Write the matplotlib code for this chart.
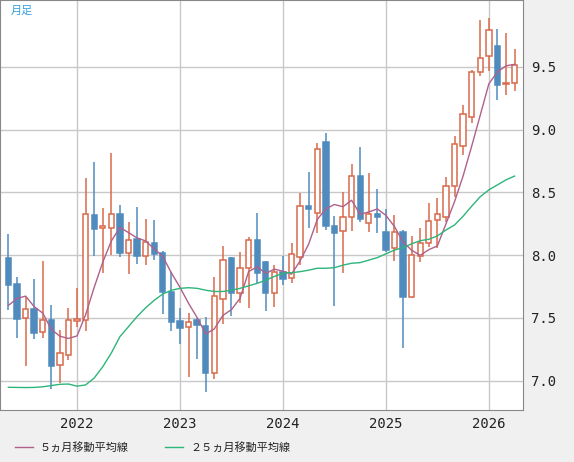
import numpy as np
import matplotlib.pyplot as plt

# monthly candles, May 2021 .. Apr 2026
opens = [7.977, 7.770, 7.496, 7.568, 7.384, 7.480, 7.121, 7.201, 7.478, 7.480,
         8.320, 8.218, 8.219, 8.328, 8.014, 8.129, 7.996, 8.097, 8.017, 7.709,
         7.475, 7.424, 7.480, 7.435, 7.057, 7.647, 7.980, 7.695, 7.895, 8.121,
         7.948, 7.695, 7.863, 7.815, 7.985, 8.392, 8.339, 8.902, 8.232, 8.190,
         8.301, 8.628, 8.253, 8.325, 8.184, 8.054, 8.184, 7.669, 7.990, 8.099,
         8.277, 8.307, 8.551, 8.870, 9.104, 9.457, 9.590, 9.667, 9.362, 9.370]
closes = [7.765, 7.493, 7.568, 7.382, 7.480, 7.119, 7.217, 7.480, 7.482, 8.325,
          8.211, 8.222, 8.325, 8.020, 8.121, 7.996, 8.102, 8.012, 7.709, 7.469,
          7.422, 7.464, 7.443, 7.057, 7.674, 7.958, 7.695, 7.895, 8.121, 7.860,
          7.701, 7.863, 7.812, 8.006, 8.389, 8.370, 8.844, 8.235, 8.179, 8.301,
          8.628, 8.285, 8.326, 8.301, 8.044, 8.182, 7.669, 7.998, 8.099, 8.269,
          8.331, 8.549, 8.883, 9.125, 9.457, 9.569, 9.795, 9.356, 9.370, 9.516]
highs = [8.168, 7.828, 7.669, 7.810, 7.953, 7.602, 7.403, 7.578, 7.738, 8.618,
         8.743, 8.376, 8.817, 8.400, 8.267, 8.384, 8.288, 8.283, 8.036, 7.863,
         7.578, 7.541, 7.496, 7.507, 7.828, 8.073, 7.988, 8.028, 8.147, 8.339,
         7.950, 7.921, 7.993, 8.094, 8.495, 8.665, 8.897, 8.976, 8.312, 8.503,
         8.727, 8.862, 8.655, 8.527, 8.368, 8.320, 8.200, 8.152, 8.213, 8.413,
         8.456, 8.623, 8.953, 9.197, 9.476, 9.875, 9.890, 9.803, 9.773, 9.643]
lows = [7.562, 7.342, 7.119, 7.331, 7.342, 6.935, 6.983, 7.164, 7.430, 7.398,
        7.996, 7.860, 7.998, 7.982, 7.849, 7.929, 7.921, 7.961, 7.533, 7.398,
        7.291, 7.031, 7.174, 6.911, 7.015, 7.448, 7.515, 7.621, 7.576, 7.775,
        7.557, 7.589, 7.759, 7.780, 7.921, 8.219, 8.179, 8.200, 7.597, 7.855,
        8.195, 8.267, 8.187, 8.174, 8.028, 7.956, 7.262, 7.660, 7.948, 8.067,
        8.054, 8.262, 8.466, 8.800, 9.050, 9.428, 9.470, 9.239, 9.277, 9.311]
prior_closes = [7.22, 7.47, 7.80, 7.74]  # Jan-Apr 2021, for the 5-month MA
ma25 = [6.946, 6.945, 6.944, 6.945, 6.950, 6.960, 6.970, 6.972, 6.955, 6.965,
        7.02, 7.11, 7.22, 7.35, 7.43, 7.51, 7.58, 7.64, 7.69, 7.72,
        7.735, 7.74, 7.735, 7.72, 7.71, 7.71, 7.72, 7.735, 7.755, 7.775,
        7.80, 7.83, 7.855, 7.86, 7.868, 7.88, 7.895, 7.895, 7.90, 7.92,
        7.935, 7.94, 7.96, 7.98, 8.01, 8.04, 8.06, 8.09, 8.115, 8.126,
        8.153, 8.20, 8.24, 8.31, 8.39, 8.466, 8.52, 8.56, 8.60, 8.63]
year_labels = ["2022", "2023", "2024", "2025", "2026"]
year_idx = [8, 20, 32, 44, 56]
y_ticks = [7.0, 7.5, 8.0, 8.5, 9.0, 9.5]

all_c = np.array(prior_closes + closes)
ma5 = np.convolve(all_c, np.ones(5) / 5, mode="valid")

up_col = "#d9694a"
dn_col = "#4f8bbd"

fig = plt.figure(figsize=(5.74, 4.62), dpi=100, facecolor="#f0f0f0")
ax = fig.add_axes([0, 410 / 462 * 0 + 52 / 462, 523 / 574, 410 / 462])
ax.set_facecolor("white")

x = np.arange(len(closes))
for i in x:
    o, c, h, l = opens[i], closes[i], highs[i], lows[i]
    col = up_col if c >= o else dn_col
    ax.vlines(i, l, h, color=col, lw=1.1, zorder=2)
    lo, hi = min(o, c), max(o, c)
    height = max(hi - lo, 0.012)
    if c >= o:
        ax.bar(i, height, bottom=lo, width=0.62, facecolor="white",
               edgecolor=col, lw=1.1, zorder=3)
    else:
        ax.bar(i, height, bottom=lo, width=0.62, facecolor=col,
               edgecolor=col, lw=1.1, zorder=3)

ax.plot(x, ma5, color="#b0608a", lw=1, zorder=4)
ax.plot(x, ma25, color="#2db57a", lw=1, zorder=4)

ax.set_xlim(-0.98, 59.98)
ax.set_ylim(6.765, 10.034)
ax.set_xticks(year_idx)
ax.set_xticklabels(year_labels)
ax.set_yticks(y_ticks)
ax.set_yticklabels([f"{v:.1f}" for v in y_ticks])
ax.yaxis.tick_right()
ax.tick_params(length=0, labelsize=10, colors="#222222")
ax.tick_params(axis="y", pad=6)
ax.tick_params(axis="x", pad=5)
for lab in ax.get_xticklabels() + ax.get_yticklabels():
    lab.set_family("DejaVu Sans Mono")
ax.grid(True, color="#c8c8c8", lw=1)
ax.set_axisbelow(True)
for s in ax.spines.values():
    s.set_color("#888888")

ax.text(0.02, 0.985, "月足", transform=ax.transAxes, ha="left", va="top",
        fontsize=8, color="#33a0e0", family=["Noto Sans CJK JP", "DejaVu Sans"])

fig.lines.append(plt.Line2D([15 / 574, 33 / 574], [15 / 462, 15 / 462], color="#b0608a", lw=1,
                            transform=fig.transFigure))
fig.text(40 / 574, 15 / 462, "５ヵ月移動平均線", fontsize=8, va="center",
         family=["Noto Sans CJK JP", "DejaVu Sans"], color="#222222")
fig.lines.append(plt.Line2D([165 / 574, 183 / 574], [15 / 462, 15 / 462], color="#2db57a", lw=1,
                            transform=fig.transFigure))
fig.text(190 / 574, 15 / 462, "２５ヵ月移動平均線", fontsize=8, va="center",
         family=["Noto Sans CJK JP", "DejaVu Sans"], color="#222222")

fig.savefig("out.png", dpi=100, facecolor=fig.get_facecolor())
